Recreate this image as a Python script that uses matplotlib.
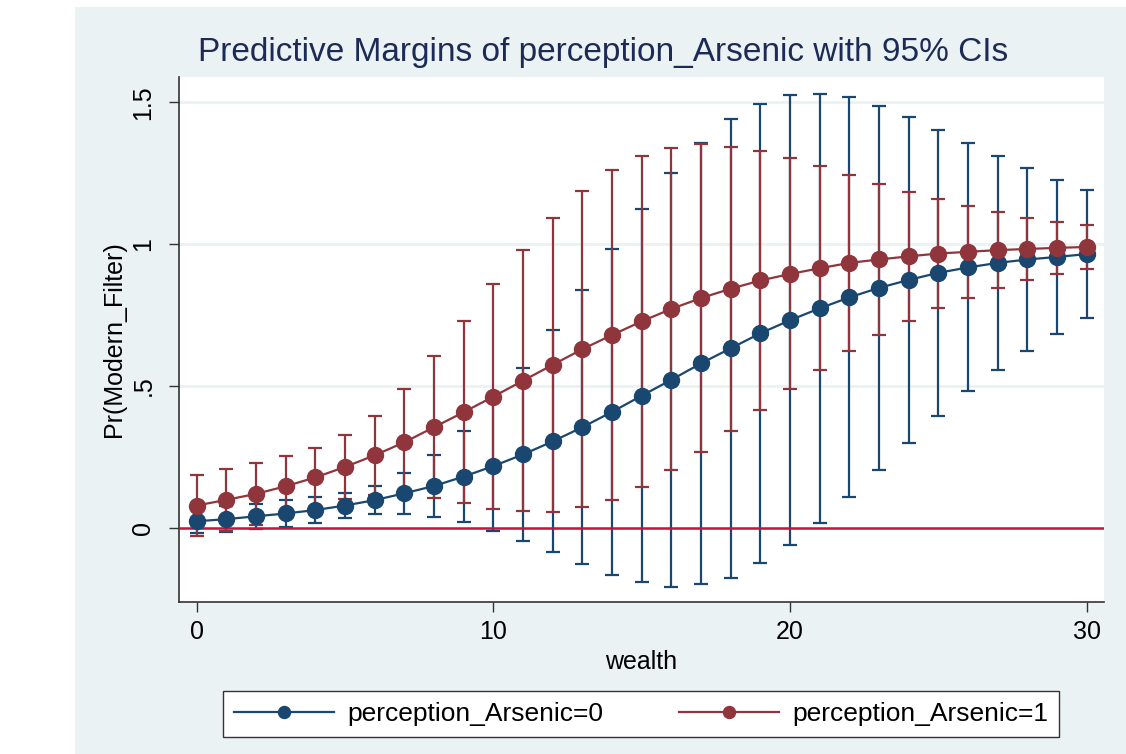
import matplotlib
matplotlib.use("Agg")
import matplotlib.pyplot as plt
from matplotlib.patches import Rectangle

plt.rcParams['font.family'] = ['Liberation Sans', 'DejaVu Sans']

# data
wealth = list(range(31))
margin_0 = [0.0235, 0.031, 0.041, 0.051, 0.063, 0.079, 0.098, 0.122, 0.148, 0.181,
            0.218, 0.259, 0.305, 0.355, 0.409, 0.466, 0.522, 0.580, 0.633, 0.686,
            0.732, 0.774, 0.8125, 0.846, 0.874, 0.899, 0.918, 0.934, 0.946, 0.955, 0.965]
ci_0 = [0.043, 0.046, 0.045, 0.046, 0.045, 0.043, 0.050, 0.072, 0.108, 0.161,
        0.229, 0.304, 0.391, 0.482, 0.574, 0.658, 0.730, 0.777, 0.808, 0.809,
        0.793, 0.756, 0.705, 0.642, 0.574, 0.503, 0.437, 0.377, 0.322, 0.272, 0.226]
margin_1 = [0.079, 0.099, 0.120, 0.147, 0.178, 0.215, 0.256, 0.302, 0.355, 0.408,
            0.463, 0.519, 0.575, 0.630, 0.680, 0.728, 0.772, 0.810, 0.843, 0.872,
            0.895, 0.915, 0.934, 0.946, 0.957, 0.967, 0.973, 0.979, 0.983, 0.987, 0.990]
ci_1 = [0.109, 0.110, 0.110, 0.105, 0.103, 0.112, 0.140, 0.189, 0.250, 0.321,
        0.396, 0.461, 0.518, 0.556, 0.580, 0.583, 0.567, 0.543, 0.501, 0.455,
        0.407, 0.359, 0.310, 0.267, 0.227, 0.191, 0.161, 0.133, 0.110, 0.091, 0.076]
labels = ['perception_Arsenic=0', 'perception_Arsenic=1']
yticks = [0, 0.5, 1, 1.5]
yticklabels = ['0', '.5', '1', '1.5']
xticks = [0, 10, 20, 30]

navy = '#1a476f'
maroon = '#90353b'
bg = '#eaf2f3'

W, H = 1126, 754
fig = plt.figure(figsize=(W / 100, H / 100), dpi=100, facecolor='white')
fig.patches.append(Rectangle((75 / W, 0), 1 - 75 / W, 1 - 7 / H, transform=fig.transFigure,
                             facecolor=bg, edgecolor='none', zorder=-10))

ax = fig.add_axes([179 / W, 1 - 602 / H, (1104 - 179) / W, (602 - 77) / H])
ax.set_facecolor('white')

for yv in yticks:
    ax.axhline(yv, color=bg, lw=2, zorder=0)

ax.errorbar(wealth, margin_0, yerr=ci_0, fmt='none', ecolor=navy, elinewidth=1.6,
            capsize=5, capthick=1.6, zorder=2)
ax.errorbar(wealth, margin_1, yerr=ci_1, fmt='none', ecolor=maroon, elinewidth=1.6,
            capsize=5, capthick=1.6, zorder=2)
ax.axhline(0, color='#cc1040', lw=1.8, zorder=3)
ax.plot(wealth, margin_0, '-o', color=navy, lw=1.6, ms=11.5, zorder=4, label=labels[0])
ax.plot(wealth, margin_1, '-o', color=maroon, lw=1.6, ms=11.5, zorder=5, label=labels[1])

ax.set_xlim(-0.597, 30.58)
ax.set_ylim(-0.261, 1.589)
ax.set_xticks(xticks)
ax.set_yticks(yticks)
ax.set_yticklabels(yticklabels, rotation=90, va='center')
ax.tick_params(axis='both', length=7, width=1, color='#333333', labelsize=18, pad=6)
ax.tick_params(axis='y', pad=10)
for s in ['top', 'right']:
    ax.spines[s].set_visible(False)
for s in ['left', 'bottom']:
    ax.spines[s].set_color('#333333')
    ax.spines[s].set_linewidth(1.2)

ax.set_xlabel('wealth', fontsize=18, labelpad=4)
ax.set_ylabel('Pr(Modern_Filter)', fontsize=18, labelpad=4)

fig.text(603 / W, 1 - 52 / H, 'Predictive Margins of perception_Arsenic with 95% CIs',
         ha='center', va='center', fontsize=24, color='#1c2a55')

leg = fig.legend(loc='center', bbox_to_anchor=(223 / W, 1 - 739 / H, 836 / W, 50 / H),
                 mode='expand', ncol=2, fontsize=19, frameon=True, fancybox=False,
                 edgecolor='#333333', handlelength=3.8, handletextpad=0.5,
                 markerscale=0.75, borderaxespad=0)
leg.get_frame().set_facecolor('white')
leg.get_frame().set_alpha(1)

fig.savefig('out.png', dpi=100, facecolor=fig.get_facecolor())
